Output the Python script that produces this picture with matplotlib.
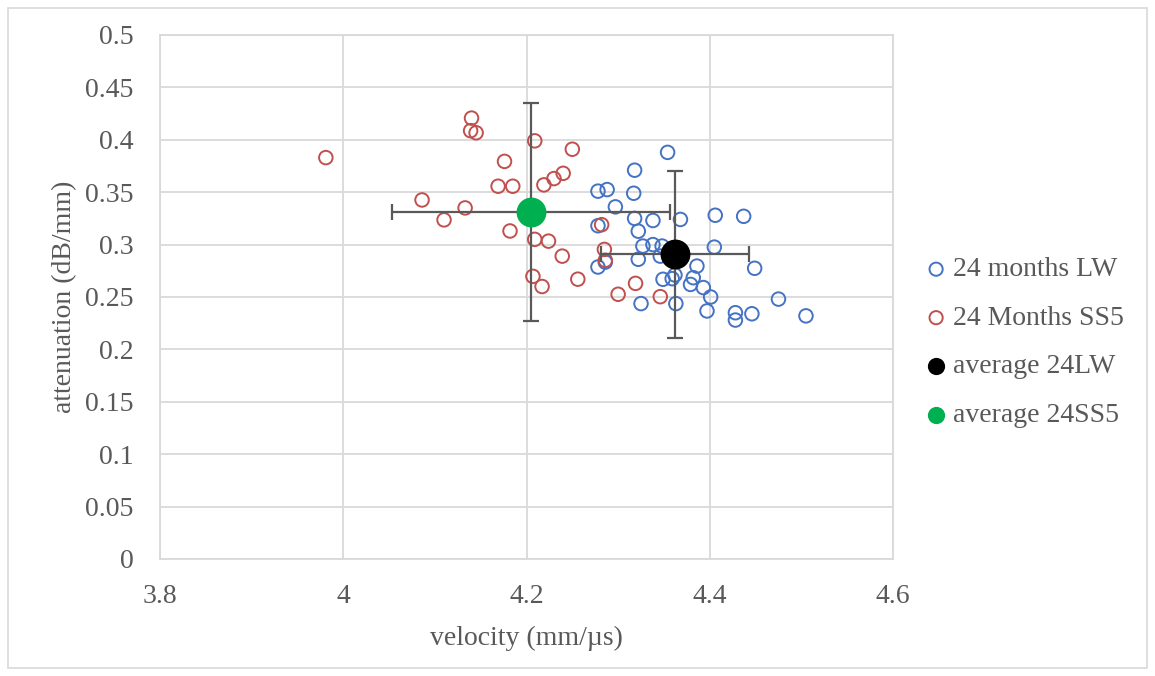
import matplotlib.pyplot as plt
from matplotlib.patches import Rectangle

# 24 months LW
lw_x = [4.354, 4.318, 4.278, 4.288, 4.317, 4.297, 4.318, 4.338, 4.368, 4.406,
        4.437, 4.278, 4.322, 4.327, 4.338, 4.348, 4.346, 4.405, 4.322, 4.278,
        4.286, 4.386, 4.449, 4.349, 4.359, 4.362, 4.382, 4.379, 4.393, 4.401,
        4.325, 4.363, 4.397, 4.428, 4.428, 4.446, 4.475, 4.505]
lw_y = [0.388, 0.371, 0.351, 0.3525, 0.349, 0.336, 0.325, 0.323, 0.324, 0.328,
        0.327, 0.318, 0.3128, 0.2986, 0.300, 0.2986, 0.289, 0.2976, 0.286, 0.2786,
        0.2833, 0.2795, 0.2774, 0.2669, 0.2675, 0.271, 0.2684, 0.262, 0.259, 0.250,
        0.2437, 0.2437, 0.2367, 0.235, 0.228, 0.234, 0.248, 0.232]

# 24 Months SS5
ss_x = [3.981, 4.140, 4.139, 4.145, 4.209, 4.250, 4.176, 4.169, 4.185, 4.219,
        4.230, 4.240, 4.086, 4.133, 4.110, 4.182, 4.209, 4.224, 4.239, 4.207,
        4.217, 4.256, 4.282, 4.285, 4.286, 4.319, 4.300, 4.346]
ss_y = [0.383, 0.4207, 0.4087, 0.4067, 0.399, 0.391, 0.3794, 0.3557, 0.3557, 0.357,
        0.363, 0.368, 0.3426, 0.335, 0.3236, 0.313, 0.305, 0.3033, 0.289, 0.2697,
        0.260, 0.267, 0.319, 0.2954, 0.285, 0.263, 0.2526, 0.2503]

# averages with error bars
avg_lw = (4.362, 0.2907)
err_lw = (0.081, 0.080)
avg_ss = (4.205, 0.331)
err_ss = (0.152, 0.104)

grey = '#595959'
gridc = '#D9D9D9'
fs = 20

fig = plt.figure(figsize=(11.55, 6.76), dpi=100)
plt.rcParams['font.family'] = 'Liberation Serif'
ax = fig.add_axes([160/1155, 1-559/676, (893-160)/1155, (559-35)/676])

ax.scatter(lw_x, lw_y, s=95, facecolors='none', edgecolors='#4472C4', linewidths=1.4,
           label='24 months LW', zorder=3)
ax.scatter(ss_x, ss_y, s=95, facecolors='none', edgecolors='#C0504D', linewidths=1.4,
           label='24 Months SS5', zorder=3)

ax.errorbar(avg_lw[0], avg_lw[1], xerr=err_lw[0], yerr=err_lw[1], fmt='none',
            ecolor=grey, elinewidth=1.6, capsize=6, capthick=1.6, zorder=4)
ax.errorbar(avg_ss[0], avg_ss[1], xerr=err_ss[0], yerr=err_ss[1], fmt='none',
            ecolor=grey, elinewidth=1.6, capsize=6, capthick=1.6, zorder=4)
ax.scatter([avg_lw[0]], [avg_lw[1]], s=420, color='black', label='average 24LW', zorder=5)
ax.scatter([avg_ss[0]], [avg_ss[1]], s=420, color='#00B050', label='average 24SS5', zorder=5)

ax.set_xlim(3.8, 4.6)
ax.set_ylim(0, 0.5)
ax.set_xticks([3.8, 4.0, 4.2, 4.4, 4.6])
ax.set_xticklabels(['3.8', '4', '4.2', '4.4', '4.6'])
yt = [i * 0.05 for i in range(11)]
ax.set_yticks(yt)
ax.set_yticklabels(['0', '0.05', '0.1', '0.15', '0.2', '0.25', '0.3', '0.35', '0.4', '0.45', '0.5'])
ax.grid(True, color=gridc, linewidth=1.3)
ax.set_axisbelow(True)
for s in ax.spines.values():
    s.set_color(gridc)
    s.set_linewidth(1.3)
ax.tick_params(axis='y', length=0, labelsize=fs, colors=grey, pad=19)
ax.tick_params(axis='x', length=0, labelsize=fs, colors=grey, pad=18)
ax.set_xlabel('velocity (mm/µs)', fontsize=fs, color=grey, labelpad=12)
ax.set_ylabel('attenuation (dB/mm)', fontsize=fs, color=grey, labelpad=6)

h, l = ax.get_legend_handles_labels()
leg = fig.legend(h, l, loc='center left', bbox_to_anchor=(900/1155, 1-342.5/676),
                 frameon=False, fontsize=fs, handletextpad=0.2, handlelength=0.8,
                 labelspacing=0.83, borderpad=0.4)
for t in leg.get_texts():
    t.set_color(grey)
for hd, sz in zip(leg.legend_handles, [90, 90, 130, 130]):
    hd.set_sizes([sz])

fig.patches.append(Rectangle((8/1155, 8/676), 1139/1155, 660/676, transform=fig.transFigure,
                             fill=False, edgecolor='#D9D9D9', linewidth=1.2))

fig.savefig('out.png', dpi=100)
